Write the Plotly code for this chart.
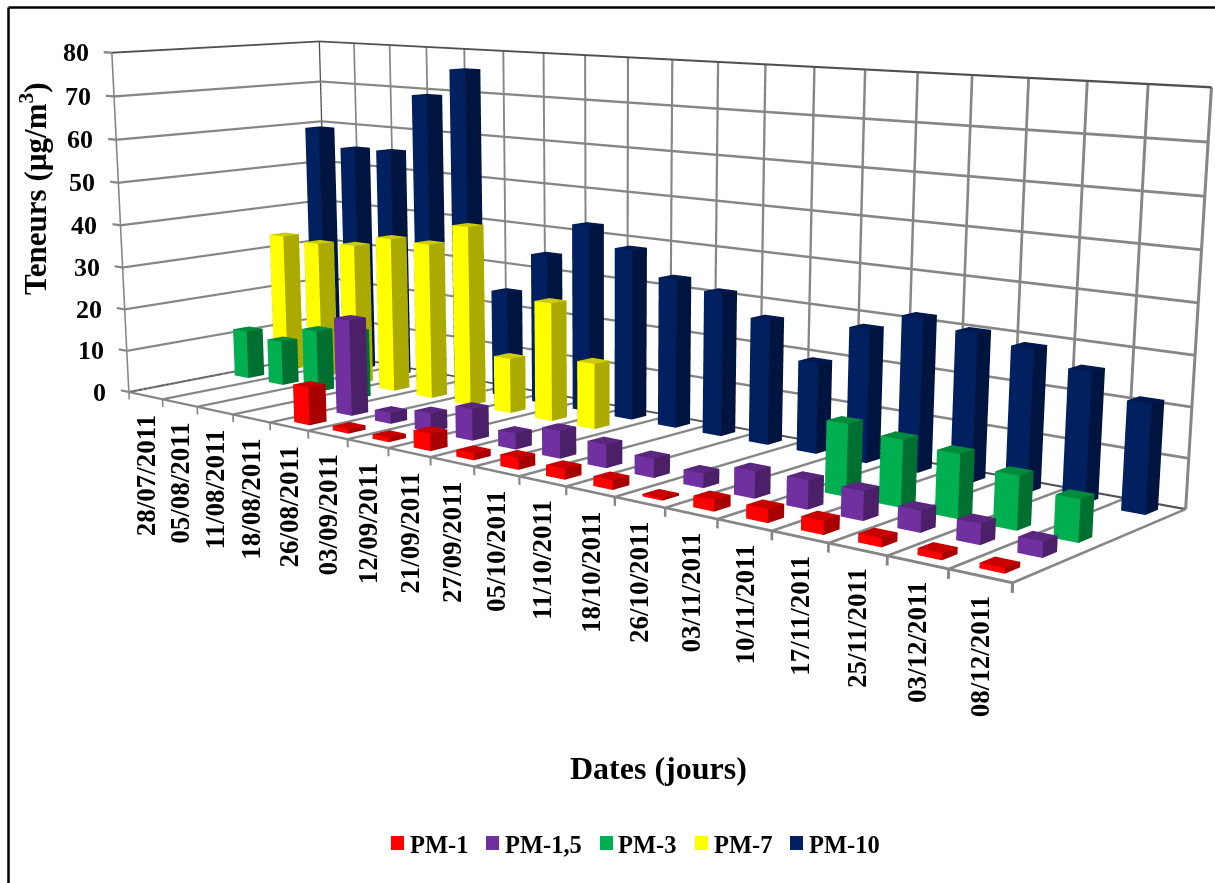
import plotly.graph_objects as go

W, H = 1215, 883
# The gl3d view has a fixed 45 degree field, so a taller plot gives the flatter perspective;
# the extra height is split evenly above and below the visible page.
PLOT_H = 1847
OFF_Y = (PLOT_H - H) // 2

dates = ["28/07/2011","05/08/2011","11/08/2011","18/08/2011","26/08/2011","03/09/2011","12/09/2011",
         "21/09/2011","27/09/2011","05/10/2011","11/10/2011","18/10/2011","26/10/2011","03/11/2011",
         "10/11/2011","17/11/2011","25/11/2011","03/12/2011","08/12/2011"]
N = None
pm1   = [N,N,N,N,8.6,1,1,3.8,1.5,2.5,2.3,2,0.5,2.3,2.7,2.7,1.7,1.3,1]
pm15  = [N,N,N,N,22,2.5,4.2,7,3.5,6,5,4,3,5.5,5.8,5.8,4.2,4,3]
pm3   = [11.6,10.6,14.7,16,N,N,N,N,N,N,N,N,N,N,14.6,13.4,12.6,10.5,8.2]
pm7   = [33.7,33,33.7,36.5,36.4,41.6,12.6,26.8,14.7,N,N,N,N,N,N,N,N,N,N]
pm10  = [59.2,55,55.2,69.2,75.8,24.8,34.7,42.7,38.5,33.2,31.5,27.1,19.4,28.1,32,30.4,28.9,26,21.5]
series = [("PM-1",pm1,"#FF0000","#A80000","#C80000"),
          ("PM-1,5",pm15,"#7030A0","#4B2068","#5A2680"),
          ("PM-3",pm3,"#00B050","#007030","#008A3C"),
          ("PM-7",pm7,"#FFFF00","#AAAA00","#CCCC00"),
          ("PM-10",pm10,"#002060","#001440","#001A50")]
z_ticks = list(range(0, 90, 10))
FONT = "Liberation Serif"
BAR = 0.40
GRID = "#868686"
EDGE = "#505050"
NX, NY, ZMAX = len(dates), len(series), z_ticks[-1]
FLAT = dict(ambient=1,diffuse=0,specular=0,fresnel=0,roughness=1)

# half widths of the drawn rules, in axis units
HX, HZ = 0.024, 0.27
TICK_X, TICK_Z = 0.24, 1.8

# Axis ranges leave room for the tick marks; camera is given for the bare box and shifted to suit.
XR, YR, ZR = [-0.3, NX+0.1], [0, NY+0.02], [-2.2, ZMAX+0.5]
SX, SY, SZ = 2/NX, .5309/NY, .6624/ZMAX
SHIFT = ((NX/2-sum(XR)/2)*SX, (NY/2-sum(YR)/2)*SY, (ZMAX/2-sum(ZR)/2)*SZ)
EYE, CENTER = (2.5292,-2.9255,.5799), (.0737,-.0627,-.304)

def boxes(vals, row, front, side, top):
    xs,ys,zs,I,J,K,fc=[],[],[],[],[],[],[]
    quads=[((0,1,5,4),front),((1,3,7,5),side),((4,5,7,6),top),((2,6,7,3),front),((0,4,6,2),side),((0,2,3,1),front)]
    for i,v in enumerate(vals):
        if v is None: continue
        b=len(xs)
        x0,x1=i+0.5-BAR/2,i+0.5+BAR/2
        y0,y1=row+0.5-BAR/2,row+0.5+BAR/2
        for z in (0,v):
            for y in (y0,y1):
                for x in (x0,x1):
                    xs.append(x);ys.append(y);zs.append(z)
        for q,c in quads:
            I+= [b+q[0],b+q[0]];J+=[b+q[1],b+q[2]];K+=[b+q[2],b+q[3]];fc+=[c,c]
    return xs,ys,zs,I,J,K,fc

def strips(rules, scale=1.0):
    # each rule is (start, end, widen-along-x?) and becomes one thin quad
    xs,ys,zs,I,J,K=[],[],[],[],[],[]
    for a,b,along_x in rules:
        n=len(xs)
        dx,dz=(HX*scale,0) if along_x else (0,HZ*scale)
        for p,s in ((a,-1),(a,1),(b,1),(b,-1)):
            xs.append(p[0]+s*dx);ys.append(p[1]);zs.append(p[2]+s*dz)
        I+=[n,n];J+=[n+1,n+2];K+=[n+2,n+3]
    return dict(x=xs,y=ys,z=zs,i=I,j=J,k=K)

grid=[((i,0,0),(i,NY,0),False) for i in range(NX+1)]
grid+=[((i,NY,0),(i,NY,ZMAX),True) for i in range(1,NX+1)]
grid+=[((0,NY,v),(NX,NY,v),False) for v in z_ticks[1:-1]]
grid+=[((0,0,v),(0,NY,v),False) for v in z_ticks[1:-1]]
grid+=[((0,0,0),(NX,0,0),False),((0,0,0),(0,0,ZMAX),True)]
grid+=[((i,0,-TICK_Z),(i,0,0),True) for i in range(NX+1)]
grid+=[((-TICK_X,0,v),(0,0,v),False) for v in z_ticks]
edges=[((0,0,ZMAX),(0,NY,ZMAX),False),((0,NY,ZMAX),(NX,NY,ZMAX),False),((0,NY,0),(0,NY,ZMAX),True),
       ((0,NY,0),(NX,NY,0),False),((0,0,0),(0,NY,0),False)]

fig=go.Figure()
fig.add_trace(go.Mesh3d(color=GRID,flatshading=True,lighting=FLAT,hoverinfo="skip",name="grille",**strips(grid)))
fig.add_trace(go.Mesh3d(color=EDGE,flatshading=True,lighting=FLAT,hoverinfo="skip",name="arêtes",**strips(edges,0.8)))
# one mesh of boxes per size fraction
for r,(name,vals,front,side,top) in enumerate(series):
    xs,ys,zs,I,J,K,fc=boxes(vals,r,front,side,top)
    fig.add_trace(go.Mesh3d(x=xs,y=ys,z=zs,i=I,j=J,k=K,facecolor=fc,name=name,flatshading=True,
        lighting=FLAT,hoverinfo="skip"))

scene_notes=[dict(x=i+0.5,y=0,z=0,text="<b>%s</b>"%d,textangle=-90,showarrow=False,yanchor="top",xanchor="center",
                  yshift=-17,font=dict(family=FONT,size=27,color="black")) for i,d in enumerate(dates)]
scene_notes+=[dict(x=0,y=0,z=v,text="<b>%d</b>"%v,showarrow=False,xanchor="right",yanchor="middle",xshift=-21,
                  font=dict(family=FONT,size=26,color="black")) for v in z_ticks]
ax=dict(showbackground=False,zeroline=False,title="",showticklabels=False,showspikes=False,showgrid=False,
        showline=False,ticks="")
fig.update_layout(width=W,height=PLOT_H,margin=dict(l=0,r=0,t=0,b=0),paper_bgcolor="white",showlegend=False,
    scene=dict(domain=dict(x=[0,1],y=[0,1]),aspectmode="manual",
        aspectratio=dict(x=(XR[1]-XR[0])*SX,y=(YR[1]-YR[0])*SY,z=(ZR[1]-ZR[0])*SZ),
        camera=dict(eye=dict(zip("xyz",[e+s for e,s in zip(EYE,SHIFT)])),
                    center=dict(zip("xyz",[c+s for c,s in zip(CENTER,SHIFT)])),up=dict(x=0,y=0,z=1)),
        xaxis=dict(ax,range=XR),yaxis=dict(ax,range=YR),zaxis=dict(ax,range=ZR),
        annotations=scene_notes))

def px(x): return x/W
def py(y): return 1-(y+OFF_Y)/PLOT_H
BLACK=dict(color="black",width=2.5)
shapes=[dict(type="line",xref="paper",yref="paper",x0=px(8.5),x1=px(8.5),y0=py(H),y1=py(7.5),line=BLACK),
        dict(type="line",xref="paper",yref="paper",x0=px(8.5),x1=1,y0=py(7.5),y1=py(7.5),line=BLACK)]
notes=[dict(xref="paper",yref="paper",x=px(33),y=py(189),xanchor="center",yanchor="middle",
            text="<b>Teneurs (µg/m<sup>3</sup>)</b>",textangle=-90,showarrow=False,
            font=dict(family=FONT,size=31,color="black")),
       dict(xref="paper",yref="paper",x=px(658),y=py(768),xanchor="center",yanchor="middle",
            text="<b>Dates (jours)</b>",showarrow=False,font=dict(family=FONT,size=32,color="black"))]
for (name,_,front,_,_),sx,tx in zip(series,[391,486,600,695,790],[408,503,616,712,807]):
    shapes.append(dict(type="rect",xref="paper",yref="paper",x0=px(sx),x1=px(sx+13),y0=py(850),y1=py(836),fillcolor=front,line=dict(width=0)))
    notes.append(dict(xref="paper",yref="paper",x=px(tx),y=py(844),xanchor="left",yanchor="middle",
                      text="<b>%s</b>"%name,showarrow=False,font=dict(family=FONT,size=24.5,color="black")))
fig.update_layout(shapes=shapes,annotations=notes)
fig.write_html("out.html",post_script=
    "var gd=document.getElementById('{plot_id}');gd.style.marginTop='-%dpx';"
    "document.documentElement.style.overflow='hidden';document.body.style.overflow='hidden';"%OFF_Y)
